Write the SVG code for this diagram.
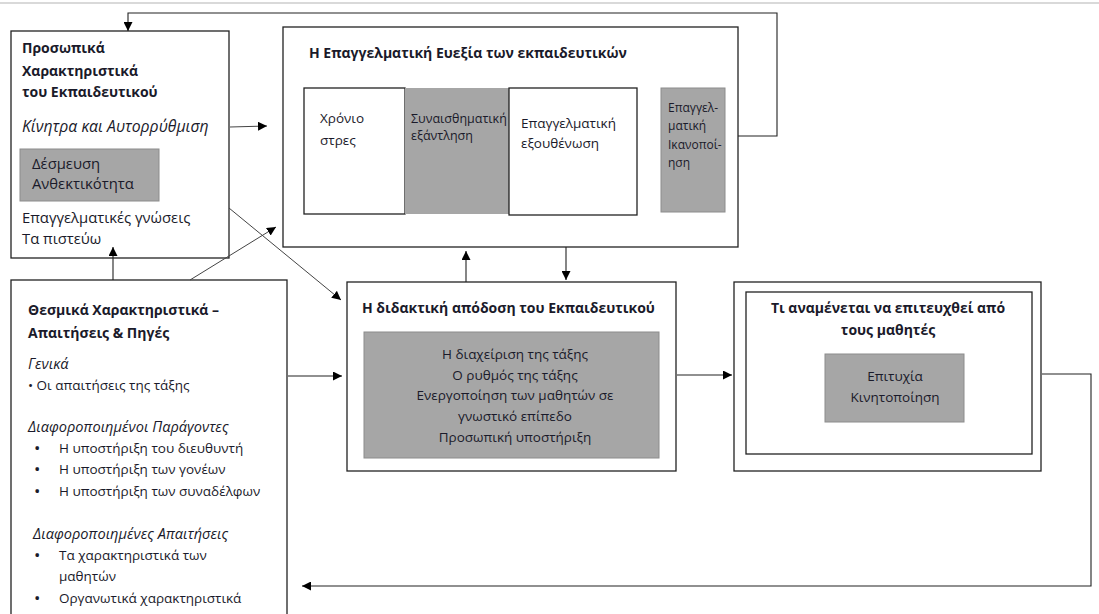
<svg xmlns="http://www.w3.org/2000/svg" width="1099" height="614" viewBox="0 0 1099 614">
<defs>
<marker id="ah" viewBox="0 0 10 10" refX="10" refY="5" markerWidth="9" markerHeight="9" markerUnits="userSpaceOnUse" orient="auto">
<path d="M0,0 L10,5 L0,10 z" fill="#000"/>
</marker>
<style>
text{font-family:"Open Sans","Noto Sans","DejaVu Sans",sans-serif;font-size:13.5px;fill:#1a1a2a}
.b{font-weight:bold;font-size:14px}
.i{font-style:italic;font-size:14.6px}
.p{font-size:14.8px}
.pi{font-style:italic;font-size:15.8px}
.s{font-size:12.5px}
.xs{font-size:12px}
.c{text-anchor:middle}
.bu{font-size:17px}
.box{fill:#fff;stroke:#222;stroke-width:1.3}
.gbox{fill:#a6a6a6;stroke:#8c8c8c;stroke-width:1}
.ln{fill:none;stroke:#222;stroke-width:1.1}
.dl{fill:none;stroke:#444;stroke-width:1}
</style>
</defs>
<rect width="1099" height="614" fill="#fff"/>
<line x1="0" y1="3" x2="1099" y2="3" stroke="#ccc" stroke-width="1.5"/>

<g id="personal">
<rect class="box" x="11" y="31" width="218" height="227"/>
<text class="b" x="22" y="53">Προσωπικά</text>
<text class="b" x="22" y="76">Χαρακτηριστικά</text>
<text class="b" x="22" y="97">του Εκπαιδευτικού</text>
<text class="pi" x="22" y="132">Κίνητρα και Αυτορρύθμιση</text>
<rect class="gbox" x="20" y="149" width="139" height="52"/>
<text class="p" x="32" y="169">Δέσμευση</text>
<text class="p" x="32" y="189">Ανθεκτικότητα</text>
<text class="p" x="22" y="223">Επαγγελματικές γνώσεις</text>
<text class="p" x="22" y="244">Τα πιστεύω</text>
</g>

<g id="wellbeing">
<rect class="box" x="283" y="27" width="455" height="220"/>
<text class="b" x="309" y="58">Η Επαγγελματική Ευεξία των εκπαιδευτικών</text>
<rect class="box" x="304" y="88" width="101" height="126"/>
<rect x="405" y="88" width="104" height="126" fill="#a6a6a6"/>
<rect class="box" x="509" y="88" width="128" height="127"/>
<rect class="gbox" x="661" y="88" width="64" height="124"/>
<text x="320" y="123">Χρόνιο</text>
<text x="320" y="145">στρες</text>
<text class="s" x="411" y="123">Συναισθηματική</text>
<text class="s" x="411" y="140">εξάντληση</text>
<text x="521" y="128">Επαγγελματική</text>
<text x="521" y="148">εξουθένωση</text>
<text class="xs" x="668" y="112">Επαγγελ-</text>
<text class="xs" x="668" y="130">ματική</text>
<text class="xs" x="668" y="149">Ικανοποί-</text>
<text class="xs" x="668" y="167">ηση</text>
</g>

<g id="institutional">
<rect class="box" x="11" y="280" width="276" height="345"/>
<text class="b" x="28" y="315">Θεσμικά Χαρακτηριστικά –</text>
<text class="b" x="28" y="338">Απαιτήσεις &amp; Πηγές</text>
<text class="i" x="28" y="369">Γενικά</text>
<text x="28" y="390">• Οι απαιτήσεις της τάξης</text>
<text class="i" x="28" y="432">Διαφοροποιημένοι Παράγοντες</text>
<text class="bu" x="34" y="454">•</text><text x="59" y="453">Η υποστήριξη του διευθυντή</text>
<text class="bu" x="34" y="475">•</text><text x="59" y="474">Η υποστήριξη των γονέων</text>
<text class="bu" x="34" y="497">•</text><text x="59" y="496">Η υποστήριξη των συναδέλφων</text>
<text class="i" x="33" y="539">Διαφοροποιημένες Απαιτήσεις</text>
<text class="bu" x="34" y="561">•</text><text x="59" y="560">Τα χαρακτηριστικά των</text>
<text x="59" y="581">μαθητών</text>
<text class="bu" x="34" y="604">•</text><text x="59" y="603">Οργανωτικά χαρακτηριστικά</text>
</g>

<g id="teaching">
<rect class="box" x="347" y="282" width="329" height="189"/>
<text class="b" x="362" y="313">Η διδακτική απόδοση του Εκπαιδευτικού</text>
<rect class="gbox" x="364" y="332" width="295" height="126"/>
<text class="c" x="515" y="359">Η διαχείριση της τάξης</text>
<text class="c" x="515" y="380">Ο ρυθμός της τάξης</text>
<text class="c" x="515" y="400">Ενεργοποίηση των μαθητών σε</text>
<text class="c" x="515" y="421">γνωστικό επίπεδο</text>
<text class="c" x="515" y="442">Προσωπική υποστήριξη</text>
</g>

<g id="expected">
<rect class="box" x="734" y="282" width="307" height="189" stroke="#555"/>
<rect class="box" x="746" y="292" width="286" height="162"/>
<text class="b c" x="888" y="313">Τι αναμένεται να επιτευχθεί από</text>
<text class="b c" x="888" y="335">τους μαθητές</text>
<rect class="gbox" x="825" y="354" width="139" height="68"/>
<text class="c" x="895" y="381">Επιτυχία</text>
<text class="c" x="895" y="402">Κινητοποίηση</text>
</g>

<g id="connectors">
<polyline class="ln" points="738,136 777,136 777,13 128,13 128,31" marker-end="url(#ah)"/>
<line class="dl" x1="230" y1="127" x2="267" y2="126" marker-end="url(#ah)"/>
<line class="ln" x1="113" y1="280" x2="113" y2="247" marker-end="url(#ah)"/>
<line class="dl" x1="190" y1="280" x2="276" y2="227" marker-end="url(#ah)"/>
<line class="dl" x1="229" y1="208" x2="341" y2="300" marker-end="url(#ah)"/>
<line class="ln" x1="288" y1="376" x2="342" y2="376" marker-end="url(#ah)"/>
<line class="ln" x1="466" y1="282" x2="466" y2="251" marker-end="url(#ah)"/>
<line class="ln" x1="566" y1="247" x2="566" y2="280" marker-end="url(#ah)"/>
<line class="ln" x1="677" y1="375" x2="732" y2="375" marker-end="url(#ah)"/>
<polyline class="ln" points="1042,374 1091,374 1091,586 302,586" stroke="#555" marker-end="url(#ah)"/>
</g>
</svg>
